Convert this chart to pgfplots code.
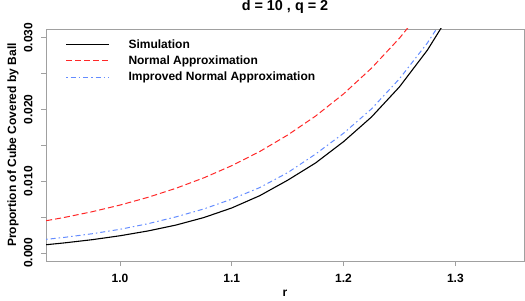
\documentclass[border=0pt]{standalone}
\usepackage{pgfplots}
\pgfplotsset{compat=1.18}
\usepackage{fontspec}
\setmainfont{Liberation Sans}
\definecolor{axgray}{RGB}{160,160,160}
\definecolor{rred}{RGB}{255,40,40}
\definecolor{rblue}{RGB}{100,140,255}
\begin{document}
\begin{tikzpicture}
\begin{axis}[
  at={(46pt,39pt)}, anchor=south west,
  scale only axis, width=478pt, height=232pt,
  xmin=0.9338, xmax=1.3614, ymin=-0.00112, ymax=0.03124,
  scaled y ticks=false, scaled x ticks=false,
  axis line style={axgray, line width=0.8pt},
  tick style={axgray, line width=0.8pt},
  tick align=outside, major tick length=5pt,
  xtick pos=bottom, ytick pos=left,
  xtick={1.0,1.1,1.2,1.3}, xticklabels={1.0,1.1,1.2,1.3},
  ytick={0,0.005,0.01,0.015,0.02,0.025,0.03},
  yticklabels={0.000,,0.010,,0.020,,0.030},
  ticklabel style={font=\bfseries\fontsize{12}{14}\selectfont, text=black},
  yticklabel style={rotate=90, anchor=south, yshift=5pt},
  xticklabel style={yshift=-5pt},
  title={d = 10 , q = 2},
  title style={font=\bfseries\fontsize{14.4}{16}\selectfont, at={(axis description cs:0.5,1)}, anchor=center, yshift=16pt},
  xlabel={r},
  xlabel style={font=\bfseries\fontsize{12}{14}\selectfont, at={(axis description cs:0.5,0)}, anchor=center, yshift=-32pt},
  ylabel={Proportion of Cube Covered by Ball},
  ylabel style={font=\bfseries\fontsize{12}{14}\selectfont, at={(axis description cs:0,0.5)}, anchor=center, rotate=0, yshift=33pt},
  clip=true,
  legend style={at={(axis description cs:0.034,0.97)}, anchor=north west, draw=none, fill=none,
    font=\bfseries\fontsize{12}{14}\selectfont, row sep=3pt,
    nodes={inner sep=1.5pt}},
  legend cell align=left,
  legend image code/.code={\path[draw=none] (0pt,0pt) -- (61pt,0pt);\draw[#1] (0pt,0pt) -- (43pt,0pt);},
]
\addplot[black, line width=1.1pt] coordinates {
(0.934,0.00115) (0.95,0.00140) (0.975,0.00185) (1.0,0.00240) (1.025,0.00307)
(1.05,0.00389) (1.075,0.00494) (1.1,0.00628) (1.125,0.00799) (1.15,0.01015)
(1.175,0.01256) (1.2,0.01553) (1.225,0.01897) (1.25,0.02317) (1.275,0.02830)
(1.3,0.03457)};
\addlegendentry{Simulation}
\addplot[rred, line width=1pt, dash pattern=on 6pt off 3pt] coordinates {
(0.934,0.00450) (0.95,0.00495) (0.975,0.00575) (1.0,0.00668) (1.025,0.00776)
(1.05,0.00902) (1.075,0.01048) (1.1,0.01218) (1.125,0.01415) (1.15,0.01645)
(1.175,0.01910) (1.2,0.02219) (1.225,0.02578) (1.25,0.02996) (1.275,0.0348)};
\addlegendentry{Normal Approximation}
\addplot[rblue, line width=1pt, dash pattern=on 1.5pt off 3pt on 5pt off 3pt] coordinates {
(0.934,0.00190) (0.95,0.00217) (0.975,0.00268) (1.0,0.00330) (1.025,0.00408)
(1.05,0.00503) (1.075,0.00614) (1.1,0.00751) (1.125,0.00912) (1.15,0.0112)
(1.175,0.0138) (1.2,0.0167) (1.225,0.0201) (1.25,0.0243) (1.275,0.0293)
(1.3,0.0353)};
\addlegendentry{Improved Normal Approximation}
\end{axis}
\pgfresetboundingbox
\path[use as bounding box] (0,0) rectangle (525pt,300pt);
\end{tikzpicture}
\end{document}
